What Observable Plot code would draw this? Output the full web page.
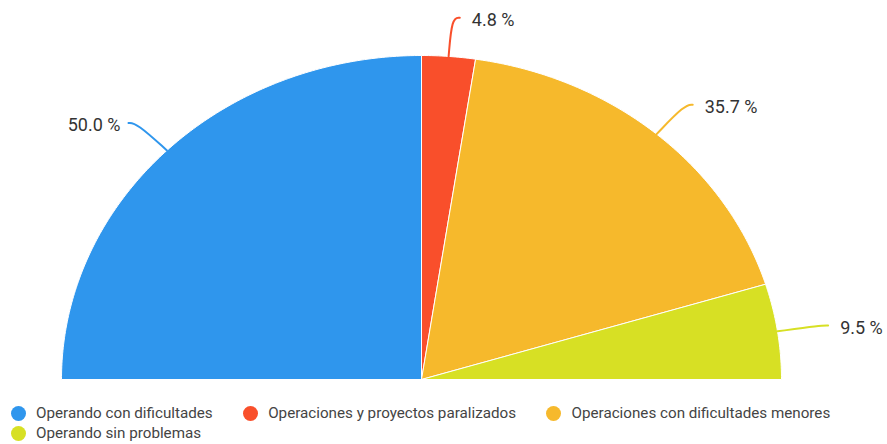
<!DOCTYPE html>
<html>
<head>
<meta charset="utf-8">
<script src="https://cdn.jsdelivr.net/npm/d3@7"></script>
<script src="https://cdn.jsdelivr.net/npm/@observablehq/plot@0.6"></script>
<style>
  body { margin: 0; background: #fff; font-family: Roboto, "Noto Sans", sans-serif; }
  #legend { position: absolute; left: 10.5px; top: 403px; width: 875px; display: flex; flex-wrap: wrap; font-size: 15.2px; color: #444; line-height: 20px; }
  .item { display: inline-flex; align-items: center; margin-right: 30px; }
  .sw { width: 15px; height: 15px; border-radius: 50%; margin-right: 10.5px; }
</style>
</head>
<body>
<div id="chart"></div>
<div id="legend"></div>
<script>
const categories = ["Operando con dificultades", "Operaciones y proyectos paralizados", "Operaciones con dificultades menores", "Operando sin problemas"];
const values = [50.0, 4.8, 35.7, 9.5];
const labels = ["50.0 %", "4.8 %", "35.7 %", "9.5 %"];
const colors = ["#2f96ed", "#f94f2b", "#f6b92c", "#d7e024"];

const total = d3.sum(values);
// slices: angle measured from the left (pi) clockwise to the right (0)
let cum = 0;
const slices = categories.map((c, i) => {
  const a0 = Math.PI - (cum / total) * Math.PI;
  cum += values[i];
  const a1 = Math.PI - (cum / total) * Math.PI;
  return {cat: c, a0, a1, label: labels[i]};
});

const pts = [];
for (const s of slices) {
  pts.push({cat: s.cat, x: 0, y: 0});
  const n = Math.max(2, Math.ceil(Math.abs(s.a0 - s.a1) / 0.01));
  for (let k = 0; k <= n; k++) {
    const a = s.a0 + (s.a1 - s.a0) * k / n;
    pts.push({cat: s.cat, x: Math.cos(a), y: Math.sin(a)});
  }
  pts.push({cat: s.cat, x: 0, y: 0});
}

const f = 1.12, hook = 0.022;
const leaders = [];
const texts = [];
for (const s of slices) {
  const m = (s.a0 + s.a1) / 2;
  const cx = Math.cos(m), cy = Math.sin(m);
  const side = cx < 0 ? -1 : 1;
  const ex = f * cx + side * hook, ey = f * cy;
  leaders.push({cat: s.cat, x: cx, y: cy});
  leaders.push({cat: s.cat, x: f * cx, y: f * cy});
  leaders.push({cat: s.cat, x: ex, y: ey});
  texts.push({cat: s.cat, x: ex, y: ey, label: s.label, side});
}

const chart = Plot.plot({
  width: 887,
  height: 398,
  margin: 0,
  x: {domain: [-1, 1], range: [61, 781], axis: null},
  y: {domain: [0, 1], range: [379, 55], axis: null},
  color: {domain: categories, range: colors},
  marks: [
    Plot.line(pts, {x: "x", y: "y", z: "cat", fill: "cat", stroke: "white", strokeWidth: 1, strokeLinejoin: "round"}),
    Plot.line(leaders, {x: "x", y: "y", z: "cat", stroke: "cat", strokeWidth: 2, curve: "basis"}),
    Plot.text(texts.filter(d => d.side > 0), {x: "x", y: "y", text: "label", textAnchor: "start", dx: 12, dy: 2.5, fontSize: 18, fill: "#333", fontFamily: "Roboto"}),
    Plot.text(texts.filter(d => d.side < 0), {x: "x", y: "y", text: "label", textAnchor: "end", dx: -8, dy: 2.5, fontSize: 18, fill: "#333", fontFamily: "Roboto"})
  ]
});
document.getElementById("chart").append(chart);

const legend = document.getElementById("legend");
categories.forEach((c, i) => {
  const it = document.createElement("div");
  it.className = "item";
  const sw = document.createElement("span");
  sw.className = "sw";
  sw.style.background = colors[i];
  const t = document.createElement("span");
  t.textContent = c;
  it.append(sw, t);
  legend.append(it);
});
</script>
</body>
</html>
